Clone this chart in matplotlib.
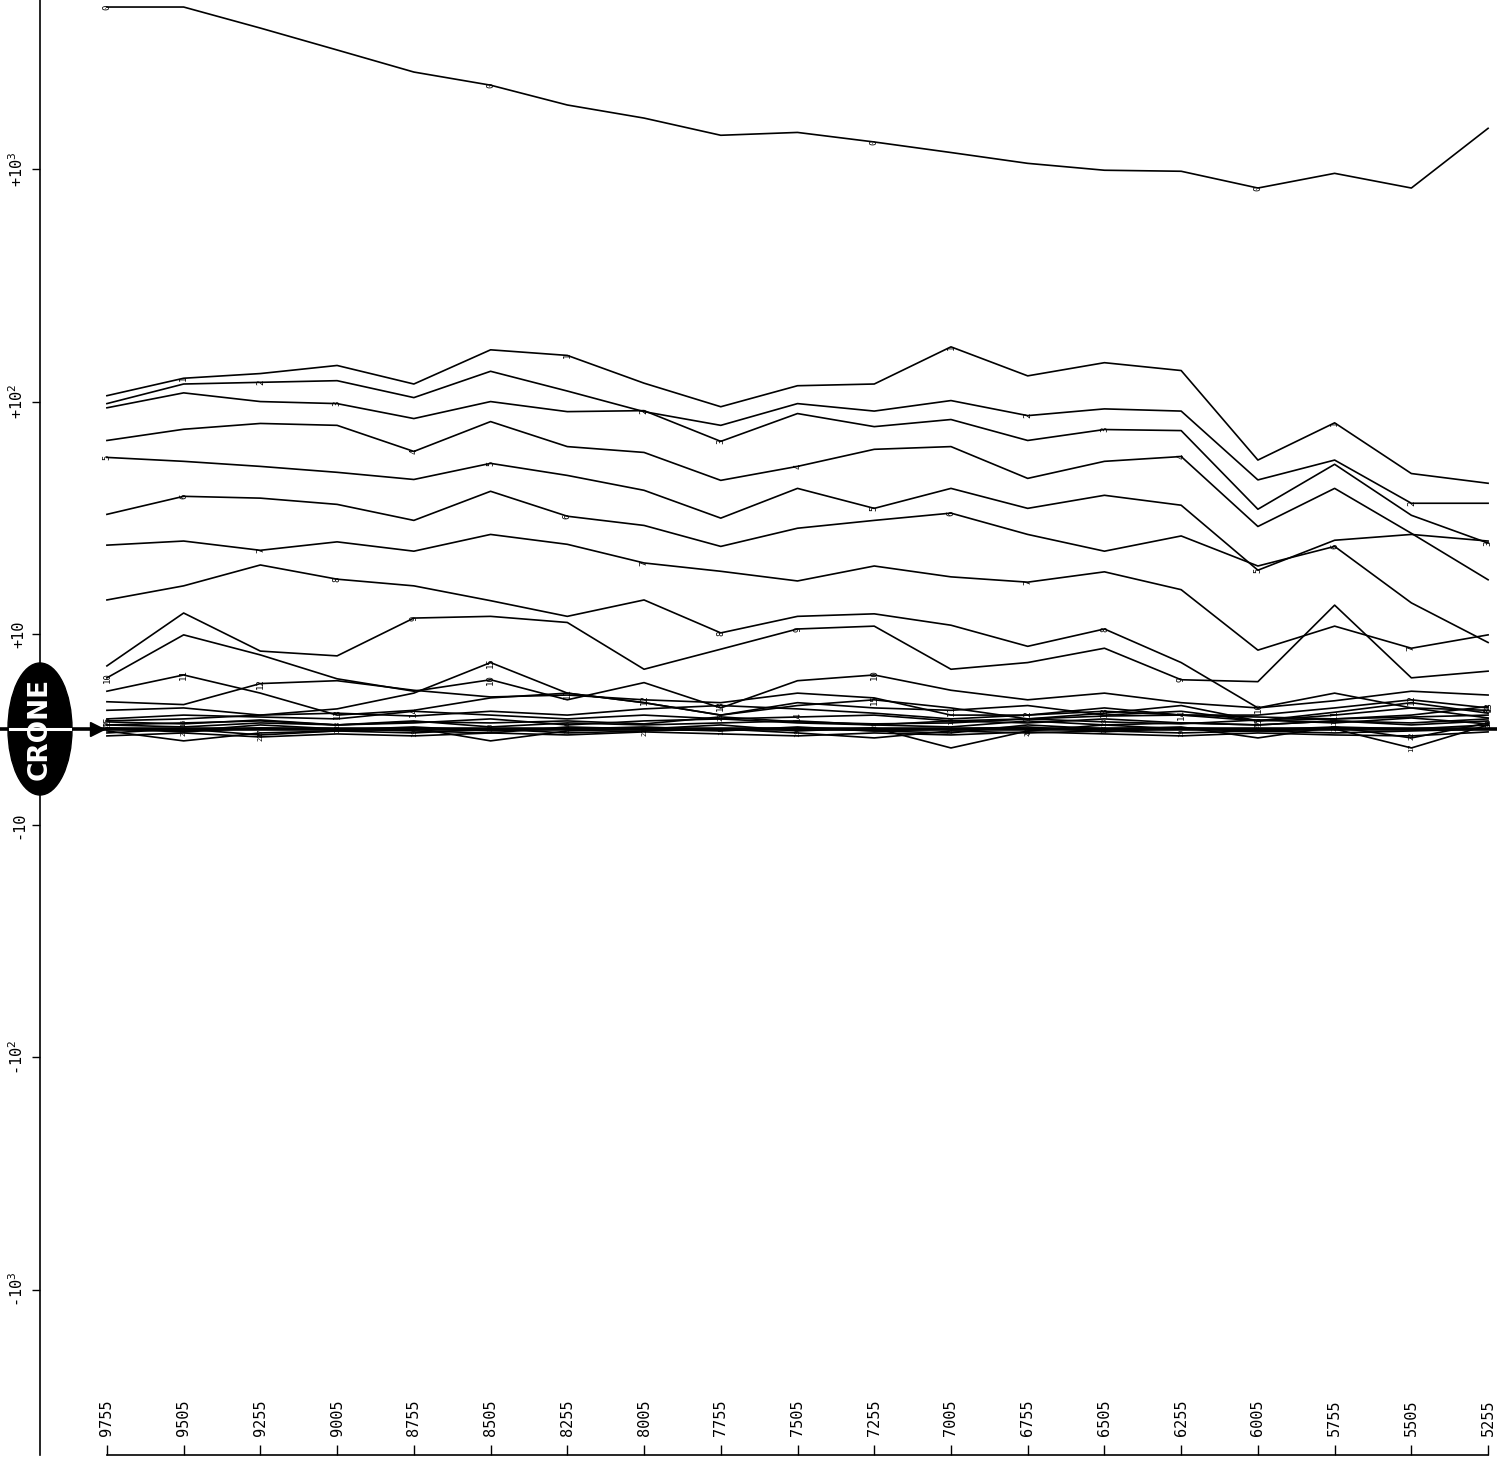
import matplotlib
matplotlib.use("Agg")
import matplotlib.pyplot as plt
import matplotlib.transforms as mtransforms
from matplotlib.patches import Ellipse
from matplotlib.lines import Line2D
from matplotlib.ticker import NullLocator

# sample positions (descending along the axis)
xs = [9755, 9505, 9255, 9005, 8755, 8505, 8255, 8005, 7755, 7505,
      7255, 7005, 6755, 6505, 6255, 6005, 5755, 5505, 5255]

s00 = [4990, 4990, 4050, 3260, 2620, 2300, 1890, 1660, 1400, 1440, 1310, 1180, 1060, 990, 980, 830, 960, 830, 1500]
s01 = [106, 126, 132, 143, 119, 167, 158, 120, 95, 117, 119, 172, 129, 147, 136, 56, 81, 49, 44.5]
s02 = [98, 119, 121, 123, 104, 135, 111, 90.5, 79, 98, 91, 101, 87, 93, 91, 46, 56, 36.5, 36.5]
s03 = [94, 109, 100, 98, 84.5, 100, 90.5, 91.4, 67.4, 88.8, 78, 83.7, 68, 75.8, 75, 34.4, 53.7, 32.4, 24.6]
s04 = [68, 76, 80.5, 79, 61, 82, 64, 60.4, 45.8, 52.6, 62.3, 64, 46.7, 55.3, 58, 29, 42.3, 27.1, 17.1]
s05 = [57.5, 55.3, 52.6, 49.6, 46.2, 54.2, 48.1, 41.5, 31.5, 42.3, 34.7, 42.3, 34.7, 39.5, 35.8, 18.8, 25.3, 26.8, 25.1]
s06 = [32.7, 39.1, 38.4, 36.1, 30.8, 41.1, 32.1, 29.3, 23.8, 28.5, 30.8, 33.1, 26.8, 22.7, 26.4, 19.6, 23.8, 13.6, 9.1]
s07 = [24.1, 25.1, 22.9, 24.9, 22.7, 26.8, 24.3, 20.2, 18.6, 16.9, 19.6, 17.6, 16.7, 18.5, 15.5, 8.3, 10.8, 8.5, 9.9]
s08 = [14.0, 16.1, 19.8, 17.2, 16.1, 13.9, 11.9, 14.0, 10.1, 11.9, 12.2, 10.9, 8.7, 10.5, 7.0, 2.25, 3.8, 2.25, 2.0]
s09 = [6.65, 12.3, 8.2, 7.7, 11.7, 11.9, 11.2, 6.3, 8.4, 10.5, 10.8, 6.3, 7.0, 8.5, 5.2, 5.0, 13.3, 5.4, 6.1]
s10 = [5.4, 9.9, 7.8, 5.3, 4.0, 5.2, 3.1, 4.9, 2.25, 5.1, 5.7, 4.1, 3.1, 3.8, 2.8, 2.25, 3.0, 4.0, 3.6]
s11 = [4.0, 5.7, 3.8, 1.5, 2.0, 3.3, 3.8, 2.8, 1.5, 2.8, 2.25, 2.0, 2.5, 1.5, 1.9, 0.9, 1.5, 2.25, 1.2]
s12 = [2.9, 2.6, 4.8, 5.1, 4.1, 3.4, 3.6, 3.1, 2.8, 3.8, 3.3, 1.5, 1.5, 2.25, 1.5, 1.5, 2.25, 3.1, 2.25]
s13 = [2.0, 2.25, 1.5, 1.7, 1.4, 1.9, 1.5, 2.15, 2.5, 2.15, 1.7, 1.1, 1.5, 1.9, 1.5, 1.3, 1.1, 1.5, 2.4]
s14 = [1.1, 1.5, 1.3, 1.1, 1.9, 1.5, 1.1, 1.5, 1.1, 1.3, 1.5, 0.9, 1.1, 1.4, 1.5, 0.9, 1.1, 1.3, 1.5]
s15 = [0.9, 1.1, 1.5, 2.15, 3.8, 7.0, 3.8, 2.8, 1.5, 2.5, 3.1, 2.25, 1.1, 1.7, 2.5, 0.9, 1.8, 2.8, 1.7]
s16 = [0.47, 0.68, 0.89, 0.47, 0.68, 1.1, 0.47, 0.89, 1.1, 0.68, 0.47, 0.89, 0.68, 1.1, 0.68, 0.47, 0.89, 0.47, 0.89]
s17 = [-0.16, -1.2, -0.37, -0.16, 0.16, -1.2, -0.16, 0.05, 0.47, -0.16, 0.16, -1.94, -0.16, 0.47, 0.05, -0.16, 0.05, -1.94, 0.47]
s18 = [0.16, -0.16, 0.47, 0.05, -0.16, -0.37, 0.26, 0.05, -0.16, 0.26, -0.16, -0.37, 0.47, 0.05, 0.26, -0.89, 0.26, -0.89, 0.68]
s19 = [-0.37, 0.05, -0.58, -0.16, -0.37, 0.05, -0.37, -0.16, 0.05, -0.37, -0.89, -0.16, -0.37, -0.16, -0.37, -0.16, -0.37, -0.16, 0.05]
s20 = [0.47, 0.26, 0.68, 0.47, 0.89, 0.26, 0.68, 0.47, 0.68, 0.89, 0.47, 0.26, 0.89, 0.47, 0.68, 0.47, 0.89, 0.68, 1.1]
s21 = [0.05, -0.26, 0.16, -0.05, 0.26, -0.16, 0.05, 0.26, -0.05, 0.16, -0.16, 0.05, 0.26, -0.26, 0.16, -0.05, 0.26, 0.05, 0.47]
s22 = [-0.68, -0.37, -0.79, -0.47, -0.68, -0.37, -0.58, -0.26, -0.47, -0.68, -0.37, -0.58, -0.26, -0.47, -0.68, -0.37, -0.58, -0.68, -0.26]
s23 = [0.79, 0.58, 0.99, 0.47, 0.79, 0.68, 0.89, 0.58, 1.31, 0.79, 0.58, 0.68, 1.1, 0.79, 0.58, 0.99, 0.68, 1.2, 0.58]

series = [s00, s01, s02, s03, s04, s05, s06, s07, s08, s09, s10, s11,
          s12, s13, s14, s15, s16, s17, s18, s19, s20, s21, s22, s23]

ytick_vals = [1000, 100, 10, -10, -100, -1000]
ytick_labels = ["+10$^3$", "+10$^2$", "+10", "-10", "-10$^2$", "-10$^3$"]
xtick_labels = [str(x) for x in xs]

W, H = 1497, 1465
fig = plt.figure(figsize=(W / 100, H / 100), dpi=100)
ax = fig.add_axes([40 / W, 10 / H, 1457 / W, 1455 / H])

for k, s in enumerate(series):
    ax.plot(xs, s, color="black", lw=1.2, zorder=2)
    # every fifth point carries the curve number
    fs = 6.5 if k < 16 else 5
    for i in range(k % 5, len(xs), 5):
        ax.text(xs[i], s[i], str(k), rotation=90, fontsize=fs,
                ha="center", va="center", family="DejaVu Sans Mono",
                zorder=3, clip_on=True)

ax.set_yscale("symlog", linthresh=10, linscale=0.37)
ax.set_ylim(-5150, 5350)
ax.set_xlim(9973, 5226)

# zero baseline with arrowhead
ax.axhline(0, color="black", lw=2.6, zorder=4)
arrow_tr = mtransforms.offset_copy(ax.transData, fig=fig, x=-10, y=0, units="dots")
ax.plot(xs[0], 0, marker=">", ms=10, color="black", transform=arrow_tr,
        zorder=5, clip_on=False)

ax.set_yticks(ytick_vals)
ax.set_yticklabels(ytick_labels, rotation=90, va="center",
                   family="DejaVu Sans Mono", fontsize=11)
ax.yaxis.set_minor_locator(NullLocator())
ax.tick_params(axis="y", direction="out", length=6, width=1, pad=4)

ax.set_xticks(xs)
ax.set_xticklabels(xtick_labels, rotation=90, va="bottom", ha="center",
                   family="DejaVu Sans Mono", fontsize=11)
ax.xaxis.set_minor_locator(NullLocator())
ax.tick_params(axis="x", direction="in", length=7, width=1, pad=-14)

for side in ("top", "right"):
    ax.spines[side].set_visible(False)
ax.spines["bottom"].set_bounds(xs[-1], xs[0])
ax.spines["left"].set_linewidth(1.2)
ax.spines["bottom"].set_linewidth(1.2)

# logo badge on the zero line
trans = mtransforms.blended_transform_factory(fig.transFigure, ax.transData)
fig.add_artist(Line2D([0, 40 / W], [0, 0], transform=trans, color="black",
                      lw=2.6, zorder=9))
fig.add_artist(Ellipse((40 / W, 1 - 729 / H), 64 / W, 132 / H,
                       transform=fig.transFigure, facecolor="black",
                       edgecolor="black", zorder=10))
fig.text(40 / W, 1 - 729 / H, "CRONE", rotation=90, color="white",
         fontsize=19, fontweight="bold", ha="center", va="center", zorder=11)
fig.add_artist(Line2D([10 / W, 70 / W], [0, 0], transform=trans,
                      color="white", lw=2.2, zorder=12))

fig.savefig("out.png", dpi=100, facecolor="white")
